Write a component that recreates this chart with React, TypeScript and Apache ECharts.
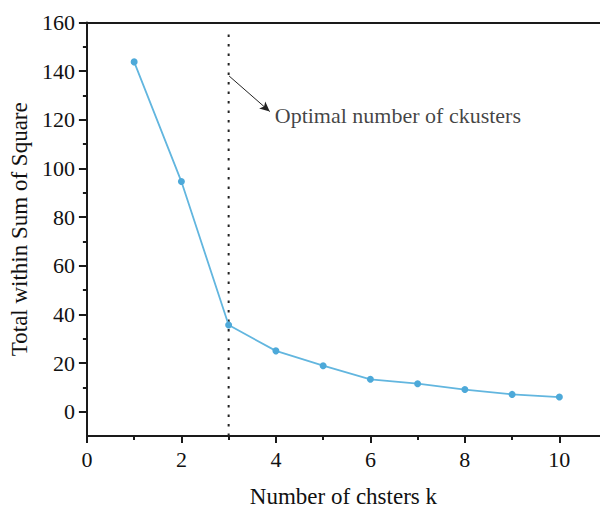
import React, { useEffect, useRef } from "react";
import * as echarts from "echarts";

const kValues = [1, 2, 3, 4, 5, 6, 7, 8, 9, 10];
const wss = [143.8, 94.6, 35.6, 25.0, 18.9, 13.3, 11.5, 9.1, 7.1, 6.0];
const yMajorTicks = [0, 20, 40, 60, 80, 100, 120, 140, 160];
const yMinorTicks = [10, 30, 50, 70, 90, 110, 130, 150];
const xMajorTicks = [0, 2, 4, 6, 8, 10];
const xMinorTicks = [1, 3, 5, 7, 9];
const optimalK = 3;
const annotationText = "Optimal number of ckusters";
const arrowStart = [3.01, 138];
const arrowEnd = [3.87, 123.4];

const FONT = "'Liberation Serif', 'Times New Roman', serif";
const AXIS_COLOR = "#1a1a1a";

export default function App() {
  const ref = useRef<HTMLDivElement>(null);
  useEffect(() => {
    if (!ref.current) return;
    const chart = echarts.init(ref.current, undefined, { renderer: "svg" });
    const axisLine = { show: true, onZero: false, lineStyle: { color: AXIS_COLOR, width: 2 } };
    chart.setOption({
      animation: false,
      backgroundColor: "#fff",
      grid: { left: 82.5, right: 0, top: 22.5, bottom: 70, containLabel: false },
      xAxis: [
        {
          type: "value",
          position: "bottom",
          min: 0,
          max: 10.86,
          interval: 1,
          axisLine,
          axisTick: { show: true, customValues: xMajorTicks, length: 7, lineStyle: { color: AXIS_COLOR, width: 2 } },
          axisLabel: { customValues: xMajorTicks, fontFamily: FONT, fontSize: 22, color: "#111", margin: 12 },
          splitLine: { show: false },
          name: "Number of chsters k",
          nameLocation: "middle",
          nameGap: 49,
          nameTextStyle: { fontFamily: FONT, fontSize: 23, color: "#111" },
        },
        {
          type: "value",
          position: "bottom",
          min: 0,
          max: 10.86,
          interval: 1,
          axisLine: { show: false, onZero: false },
          axisTick: { show: true, customValues: xMinorTicks, length: 4, lineStyle: { color: AXIS_COLOR, width: 2 } },
          axisLabel: { show: false },
          splitLine: { show: false },
        },
        {
          type: "value",
          position: "top",
          min: 0,
          max: 10.86,
          axisLine,
          axisTick: { show: false },
          axisLabel: { show: false },
          splitLine: { show: false },
        },
      ],
      yAxis: [
        {
          type: "value",
          position: "left",
          min: -10,
          max: 160,
          interval: 10,
          axisLine,
          axisTick: { show: true, customValues: yMajorTicks, length: 8, lineStyle: { color: AXIS_COLOR, width: 2 } },
          axisLabel: { customValues: yMajorTicks, fontFamily: FONT, fontSize: 22, color: "#111", margin: 12 },
          splitLine: { show: false },
          name: "Total within Sum of Square",
          nameLocation: "middle",
          nameGap: 50,
          nameTextStyle: { fontFamily: FONT, fontSize: 23, color: "#111" },
        },
        {
          type: "value",
          position: "left",
          min: -10,
          max: 160,
          interval: 10,
          axisLine: { show: false, onZero: false },
          axisTick: { show: true, customValues: yMinorTicks, length: 4, lineStyle: { color: AXIS_COLOR, width: 2 } },
          axisLabel: { show: false },
          splitLine: { show: false },
        },
      ],
      series: [
        {
          type: "line",
          xAxisIndex: 0,
          yAxisIndex: 0,
          data: [[optimalK, -10], [optimalK, 157.5]],
          symbol: "none",
          silent: true,
          lineStyle: { color: "#222", width: 2, type: [2.5, 7] },
          z: 1,
        },
        {
          type: "line",
          xAxisIndex: 0,
          yAxisIndex: 0,
          data: kValues.map((k, i) => [k, wss[i]]),
          symbol: "circle",
          symbolSize: 7,
          lineStyle: { color: "#62b6df", width: 1.8 },
          itemStyle: { color: "#4da9d9" },
          z: 3,
        },
        {
          type: "scatter",
          xAxisIndex: 0,
          yAxisIndex: 0,
          data: [arrowEnd],
          symbolSize: 0,
          silent: true,
          label: {
            show: true,
            position: "right",
            distance: 5,
            offset: [0, 4],
            formatter: annotationText,
            fontFamily: FONT,
            fontSize: 22,
            color: "#111",
          },
          markLine: {
            silent: true,
            symbol: ["none", "arrow"],
            symbolSize: [7, 10],
            label: { show: false },
            lineStyle: { color: "#222", width: 1, type: "solid" },
            data: [[{ coord: arrowStart }, { coord: arrowEnd }]],
          },
          z: 4,
        },
      ],
    });
    return () => chart.dispose();
  }, []);
  return (
    <div
      ref={ref}
      style={{ position: "absolute", left: 0, top: 0, width: 600, height: 513, background: "#fff" }}
    />
  );
}
